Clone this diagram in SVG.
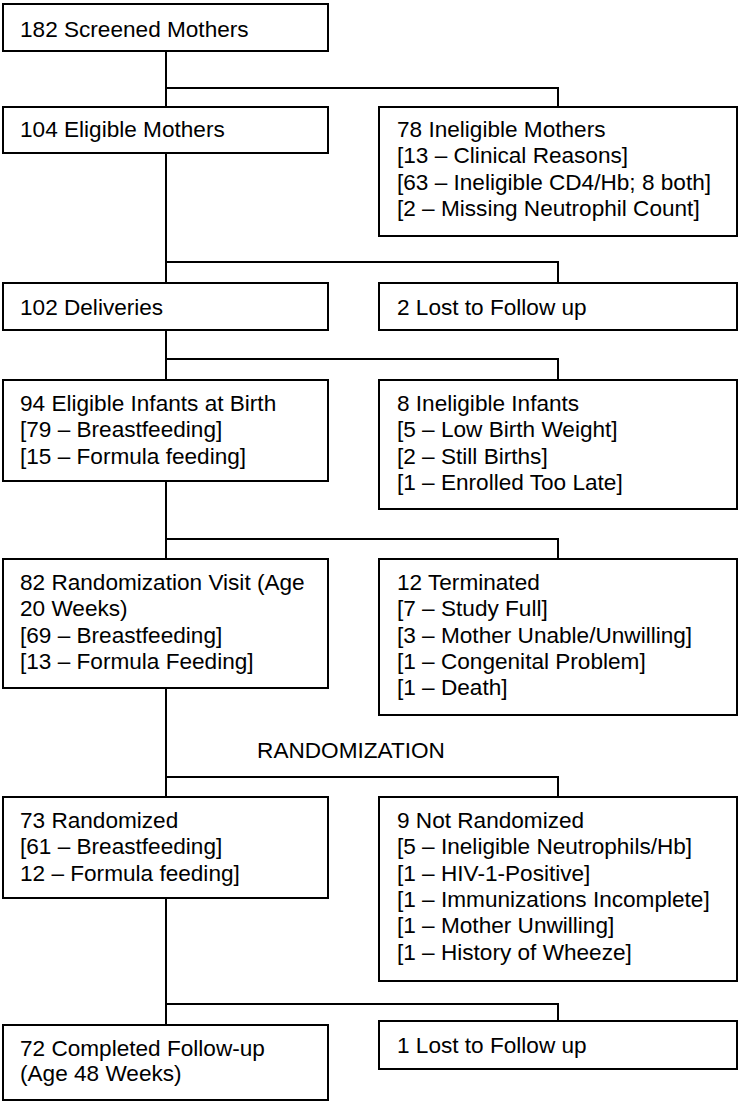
<svg xmlns="http://www.w3.org/2000/svg" width="740" height="1103" viewBox="0 0 740 1103">
<style>
.box{fill:#fff;stroke:#000;stroke-width:2}
.t{font-family:"Liberation Sans",Arial,sans-serif;font-size:22.6px;fill:#000}
.c{fill:none;stroke:#000;stroke-width:2}
</style>
<rect width="740" height="1103" fill="#fff"/>
<g id="connectors">
<path class="c" d="M166,51V107 M166,88H558V107"/>
<path class="c" d="M166,153V283 M166,262H558V283"/>
<path class="c" d="M166,330V380 M166,359H558V380"/>
<path class="c" d="M166,481V559 M166,539H558V559"/>
<path class="c" d="M166,688V797 M166,777H558V797"/>
<path class="c" d="M166,898V1025 M166,1004H558V1021"/>
</g>
<g id="n1"><rect class="box" x="3" y="4" width="325" height="47"/><text class="t" x="20" y="37">182 Screened Mothers</text></g>
<g id="n2"><rect class="box" x="3" y="107" width="325" height="46"/><text class="t" x="20" y="137">104 Eligible Mothers</text></g>
<g id="n3"><rect class="box" x="379" y="107" width="358" height="129"/><text class="t" x="397" y="137">78 Ineligible Mothers<tspan x="397" dy="26.3">[13 – Clinical Reasons]</tspan><tspan x="397" dy="26.3">[63 – Ineligible CD4/Hb; 8 both]</tspan><tspan x="397" dy="26.3">[2 – Missing Neutrophil Count]</tspan></text></g>
<g id="n4"><rect class="box" x="3" y="283" width="325" height="47"/><text class="t" x="20" y="315">102 Deliveries</text></g>
<g id="n5"><rect class="box" x="379" y="283" width="358" height="47"/><text class="t" x="397" y="315">2 Lost to Follow up</text></g>
<g id="n6"><rect class="box" x="3" y="380" width="325" height="101"/><text class="t" x="20" y="411">94 Eligible Infants at Birth<tspan x="20" dy="26.3">[79 – Breastfeeding]</tspan><tspan x="20" dy="26.3">[15 – Formula feeding]</tspan></text></g>
<g id="n7"><rect class="box" x="379" y="380" width="358" height="129"/><text class="t" x="397" y="411">8 Ineligible Infants<tspan x="397" dy="26.3">[5 – Low Birth Weight]</tspan><tspan x="397" dy="26.3">[2 – Still Births]</tspan><tspan x="397" dy="26.3">[1 – Enrolled Too Late]</tspan></text></g>
<g id="n8"><rect class="box" x="3" y="559" width="325" height="129"/><text class="t" x="20" y="590">82 Randomization Visit (Age<tspan x="20" dy="26.3">20 Weeks)</tspan><tspan x="20" dy="26.3">[69 – Breastfeeding]</tspan><tspan x="20" dy="26.3">[13 – Formula Feeding]</tspan></text></g>
<g id="n9"><rect class="box" x="379" y="559" width="358" height="156"/><text class="t" x="397" y="590">12 Terminated<tspan x="397" dy="26.3">[7 – Study Full]</tspan><tspan x="397" dy="26.3">[3 – Mother Unable/Unwilling]</tspan><tspan x="397" dy="26.3">[1 – Congenital Problem]</tspan><tspan x="397" dy="26.3">[1 – Death]</tspan></text></g>
<g id="label-randomization"><text class="t" x="351" y="758" text-anchor="middle">RANDOMIZATION</text></g>
<g id="n10"><rect class="box" x="3" y="797" width="325" height="101"/><text class="t" x="20" y="828">73 Randomized<tspan x="20" dy="26.3">[61 – Breastfeeding]</tspan><tspan x="20" dy="26.3">12 – Formula feeding]</tspan></text></g>
<g id="n11"><rect class="box" x="379" y="797" width="358" height="184"/><text class="t" x="397" y="828">9 Not Randomized<tspan x="397" dy="26.3">[5 – Ineligible Neutrophils/Hb]</tspan><tspan x="397" dy="26.3">[1 – HIV-1-Positive]</tspan><tspan x="397" dy="26.3">[1 – Immunizations Incomplete]</tspan><tspan x="397" dy="26.3">[1 – Mother Unwilling]</tspan><tspan x="397" dy="26.3">[1 – History of Wheeze]</tspan></text></g>
<g id="n12"><rect class="box" x="3" y="1025" width="325" height="75"/><text class="t" x="20" y="1056">72 Completed Follow-up<tspan x="20" dy="25">(Age 48 Weeks)</tspan></text></g>
<g id="n13"><rect class="box" x="379" y="1021" width="358" height="48"/><text class="t" x="397" y="1053">1 Lost to Follow up</text></g>
</svg>
